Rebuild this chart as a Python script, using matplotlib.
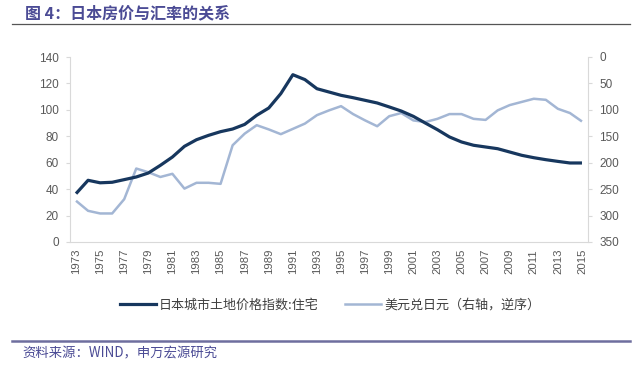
import matplotlib
matplotlib.use("Agg")
import matplotlib.pyplot as plt
from matplotlib.lines import Line2D

plt.rcParams['font.family'] = ['Liberation Sans', 'Noto Sans CJK SC', 'DejaVu Sans']

years = list(range(1973, 2016))
land_price = [36.6, 46.7, 44.8, 45.2, 47.2, 49.2, 52.2, 58.0, 64.3, 72.4,
              77.4, 80.7, 83.5, 85.5, 89.0, 95.9, 101.4, 112.3, 126.6, 122.9,
              116.0, 113.5, 111.0, 109.2, 107.2, 105.2, 102.2, 99.1, 95.1, 90.0,
              85.0, 79.5, 75.7, 73.2, 71.9, 70.6, 68.1, 65.6, 63.8, 62.3,
              61.0, 59.8, 59.8]
usd_jpy = [272, 291, 296, 296, 269, 211, 218, 227, 221, 249,
           238, 238, 240, 167, 145, 129, 137, 146, 136, 126,
           110, 101, 93, 108, 120, 131, 112, 106, 120, 123,
           117, 108, 108, 117, 119, 101, 91, 85, 79, 81,
           98, 106, 122]
left_ticks = [0, 20, 40, 60, 80, 100, 120, 140]
right_ticks = [0, 50, 100, 150, 200, 250, 300, 350]
xtick_years = list(range(1973, 2016, 2))
title = "图 4：日本房价与汇率的关系"
label_land = "日本城市土地价格指数:住宅"
label_fx = "美元兑日元（右轴，逆序）"
source = "资料来源：WIND，申万宏源研究"

dark = "#17375E"
light = "#A3B6D4"
axis_grey = "#D9D9D9"
text_grey = "#595959"
purple = "#4B4B95"

fig = plt.figure(figsize=(6.4, 3.72), dpi=100)
ax = fig.add_axes([70/640, 1-242/372, (588-70)/640, (242-57)/372])
ax2 = ax.twinx()

ax.plot(years, land_price, color=dark, lw=2.3, solid_capstyle='butt', zorder=3)
ax2.plot(years, usd_jpy, color=light, lw=1.8, solid_capstyle='butt', zorder=2)
ax.set_zorder(ax2.get_zorder() + 1)
ax.patch.set_visible(False)

ax.set_xlim(1972.5, 2015.5)
ax.set_ylim(0, 140)
ax2.set_ylim(350, 0)
ax.set_yticks(left_ticks)
ax2.set_yticks(right_ticks)
ax.set_xticks(xtick_years)
ax.set_xticklabels([str(y) for y in xtick_years], rotation=90)

for a in (ax, ax2):
    for s in a.spines.values():
        s.set_color(axis_grey)
    a.spines['top'].set_visible(False)
    a.tick_params(colors=axis_grey, labelcolor=text_grey, labelsize=8.5, length=3, width=0.8, pad=5)
ax.tick_params(axis='x', labelsize=8.2, length=0, pad=5)
ax.spines['right'].set_visible(False)
ax2.spines['left'].set_visible(False)
ax2.spines['bottom'].set_visible(False)

handles = [Line2D([], [], color=dark, lw=2.3), Line2D([], [], color=light, lw=1.8)]
fig.legend(handles, [label_land, label_fx], loc='center', bbox_to_anchor=(330/640, 1-305/372),
           ncol=2, frameon=False, handlelength=2.8, handletextpad=0.2,
           columnspacing=2.0, prop={'family': ['Noto Sans CJK SC', 'DejaVu Sans'], 'size': 9.4},
           labelcolor='#404040')

fig.text(25/640, 1-13/372, title, color=purple, fontsize=11.5, fontweight='bold',
         va='center', ha='left', family=['Noto Sans CJK SC', 'DejaVu Sans'])
fig.add_artist(Line2D([12/640, 630/640], [1-24/372, 1-24/372], color="#555555", lw=0.9))
fig.add_artist(Line2D([12/640, 630/640], [1-341/372, 1-341/372], color="#6E6E9E", lw=1.8))
fig.text(22/640, 1-353/372, source, color=purple, fontsize=9.6,
         va='center', ha='left', family=['Noto Sans CJK SC', 'DejaVu Sans'])

fig.savefig("out.png", dpi=100)
